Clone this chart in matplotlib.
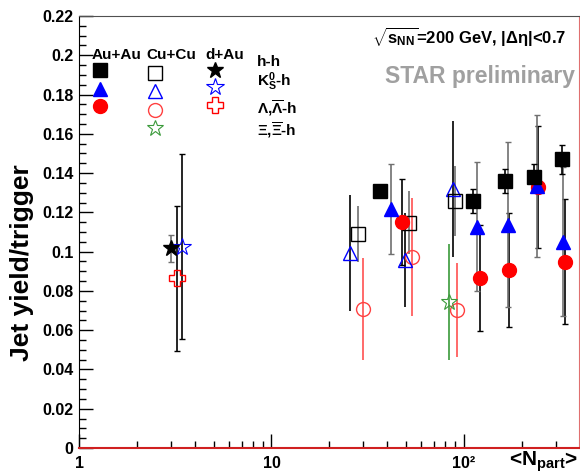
import matplotlib
matplotlib.use('Agg')
import matplotlib.pyplot as plt
from matplotlib.ticker import FixedLocator, FixedFormatter, FuncFormatter, MultipleLocator

plt.rcParams['font.family'] = ['Liberation Sans', 'DejaVu Sans']
plt.rcParams['font.weight'] = 'bold'
plt.rcParams['mathtext.fontset'] = 'custom'
plt.rcParams['mathtext.rm'] = 'Liberation Sans:bold'
plt.rcParams['mathtext.it'] = 'Liberation Sans:bold'
plt.rcParams['mathtext.bf'] = 'Liberation Sans:bold'
plt.rcParams['mathtext.sf'] = 'Liberation Sans:bold'

# ---------------- data ----------------
# Au+Au
auau_hh_x = [36.6, 111, 163, 231, 324]
auau_hh_y = [0.1307, 0.1259, 0.1361, 0.1379, 0.147]
auau_hh_err = [0.0, 0.006, 0.006, 0.0066, 0.0074]
auau_k0_x = [41.8, 116.8, 168.7, 238.6, 328]
auau_k0_y = [0.1216, 0.1127, 0.1136, 0.1334, 0.1051]
auau_k0_err = [0.023, 0.033, 0.042, 0.036, 0.038]
auau_lam_x = [47.5, 121, 171, 243, 334.6]
auau_lam_y = [0.1152, 0.0864, 0.0906, 0.1331, 0.0949]
auau_lam_err = [0.022, 0.027, 0.029, 0.031, 0.032]
# Cu+Cu
cucu_hh_x = [28.0, 51.8, 89.8]
cucu_hh_y = [0.109, 0.1147, 0.1258]
cucu_hh_err = [0.0143, 0.016, 0.018]
cucu_k0_x = [25.6, 49.6, 88.0]
cucu_k0_y = [0.0992, 0.0957, 0.1317]
cucu_k0_err = [0.0295, 0.024, 0.0346]
cucu_lam_x = [30.0, 53.5, 91.6]
cucu_lam_y = [0.0706, 0.0971, 0.0703]
cucu_lam_err = [0.026, 0.030, 0.024]
cucu_xi_x = [83.6]
cucu_xi_y = [0.0745]
cucu_xi_err = [0.0295]
# d+Au
dau_hh_x = [3.0]
dau_hh_y = [0.1017]
dau_hh_err = [0.007]
dau_k0_x = [3.42]
dau_k0_y = [0.1025]
dau_k0_err = [0.047]
dau_lam_x = [3.22]
dau_lam_y = [0.0864]
dau_lam_err = [0.037]

x_tick_values = [1, 10, 100]
x_tick_labels = ['1', '10', '10\u00b2']
legend_systems = ['Au+Au', 'Cu+Cu', 'd+Au']
legend_species = ['h-h', r'K$_{S}^{0}$-h', r'$\Lambda$,$\overline{\Lambda}$-h', r'$\Xi$,$\overline{\Xi}$-h']

# ---------------- figure ----------------
W, H = 580, 474
fig = plt.figure(figsize=(W / 100, H / 100), dpi=100)
L, R, T, B = 79, 579, 16, 448
ax = fig.add_axes([L / W, 1 - B / H, (R - L) / W, (B - T) / H])
ax.set_xscale('log')
ax.set_xlim(1, 396)
ax.set_ylim(0, 0.22)

blue = '#0000ff'
red = '#ff0000'
green = '#3a9a3a'
grey = '#707070'


def eb(x, y, e, marker, ms, mfc, mec, ecol, cap, mew=1.0, z=3):
    ax.errorbar(x, y, yerr=e, fmt='none', ecolor=ecol, elinewidth=1.2,
                capsize=cap, capthick=1.0, zorder=z)
    ax.plot(x, y, linestyle='none', marker=marker, ms=ms, mfc=mfc, mec=mec,
            mew=mew, zorder=z + 1)


# Cu+Cu (open)
eb(cucu_lam_x, cucu_lam_y, cucu_lam_err, 'o', 10, 'none', '#ff4040', '#ff5050', 0)
eb(cucu_xi_x, cucu_xi_y, cucu_xi_err, '*', 12, 'none', green, green, 0, mew=0.8)
eb(cucu_k0_x, cucu_k0_y, cucu_k0_err, '^', 10, 'none', blue, 'black', 0)
eb(cucu_hh_x, cucu_hh_y, cucu_hh_err, 's', 10.5, 'none', 'black', grey, 0)
# d+Au
eb(dau_lam_x, dau_lam_y, dau_lam_err, 'P', 11, 'none', red, 'black', 2, mew=1.0)
eb(dau_k0_x, dau_k0_y, dau_k0_err, '*', 13, 'none', blue, 'black', 2, mew=0.8)
eb(dau_hh_x, dau_hh_y, dau_hh_err, '*', 12, 'black', 'black', grey, 2)
# Au+Au (filled)
eb(auau_lam_x, auau_lam_y, auau_lam_err, 'o', 10, red, red, 'black', 2)
eb(auau_k0_x, auau_k0_y, auau_k0_err, '^', 10, blue, blue, grey, 2)
eb(auau_hh_x, auau_hh_y, auau_hh_err, 's', 10, 'black', 'black', 'black', 2)

# axes styling
ax.xaxis.set_major_locator(FixedLocator(x_tick_values))
ax.xaxis.set_major_formatter(FixedFormatter(x_tick_labels))
ax.yaxis.set_major_locator(MultipleLocator(0.02))
ax.yaxis.set_minor_locator(MultipleLocator(0.005))
ax.yaxis.set_major_formatter(FuncFormatter(lambda v, p: '%g' % round(v, 3)))
ax.tick_params(which='major', direction='in', length=10, width=1, labelsize=11.5,
               top=False, right=False, pad=4)
ax.tick_params(which='minor', direction='in', length=5, width=1, top=False, right=False)
ax.tick_params(axis='x', which='major', pad=6)
for lab in ax.get_xticklabels() + ax.get_yticklabels():
    lab.set_fontweight('bold')
ax.spines['bottom'].set_color('#d02020')
ax.spines['bottom'].set_linewidth(1.5)
ax.spines['right'].set_color('#e07070')
ax.spines['top'].set_color('#505050')
ax.spines['left'].set_color('black')

ax.set_ylabel('Jet yield/trigger', fontsize=19, fontweight='bold')
ax.yaxis.set_label_coords(-0.09, 0.428)
fig.text(543 / W, 1 - 462 / H, r'<N$_{\mathrm{part}}$>', fontsize=15,
         fontweight='bold', ha='center', va='center')

ax.text(0.975, 0.95, r'$\sqrt{s_{NN}}$=200 GeV, $|\Delta\eta|$<0.7', transform=ax.transAxes,
        fontsize=12, fontweight='bold', ha='right', va='center')
ax.text(0.992, 0.86, 'STAR preliminary', transform=ax.transAxes, color='#a0a0a0',
        fontsize=16.5, fontweight='bold', ha='right', va='center')

# ---------------- legend (overlay in pixel space) ----------------
ov = fig.add_axes([0, 0, 1, 1], zorder=5)
ov.set_xlim(0, W)
ov.set_ylim(H, 0)
ov.axis('off')
for name, xc in zip(legend_systems, [117, 171, 225]):
    ov.text(xc, 55, name, fontsize=11, fontweight='bold', ha='center', va='center')
ov.plot([100], [70], 's', ms=10, mfc='black', mec='black')
ov.plot([100], [89], '^', ms=10, mfc=blue, mec=blue)
ov.plot([100], [106], 'o', ms=10, mfc=red, mec=red)
ov.plot([155], [73], 's', ms=10.5, mfc='none', mec='black')
ov.plot([155], [91], '^', ms=10, mfc='none', mec=blue)
ov.plot([155], [110], 'o', ms=10, mfc='none', mec='#ff4040')
ov.plot([155], [128], '*', ms=12, mfc='none', mec=green, mew=0.8)
ov.plot([215], [70], '*', ms=12, mfc='black', mec='black')
ov.plot([215], [87], '*', ms=13, mfc='none', mec=blue, mew=0.8)
ov.plot([215], [105], 'P', ms=11, mfc='none', mec=red)
for lab, yy in zip(legend_species, [62, 82, 108, 130]):
    ov.text(257, yy, lab, fontsize=11, fontweight='bold', ha='left', va='center')

fig.savefig('out.png', dpi=100)
